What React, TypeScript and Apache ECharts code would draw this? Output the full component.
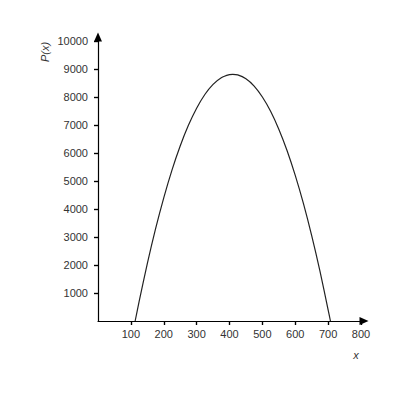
import { useEffect, useRef } from 'react';
import * as echarts from 'echarts';

// points
const xValues = [113, 125, 150, 175, 200, 225, 250, 275, 300, 325, 350, 375, 400, 410, 425, 450, 475, 500, 525, 550, 575, 600, 625, 650, 675, 700, 707];
const pValues = [0, 690, 2050, 3290, 4400, 5390, 6250, 6990, 7600, 8090, 8450, 8690, 8800, 8810, 8790, 8650, 8390, 8000, 7490, 6850, 6090, 5200, 4190, 3050, 1790, 400, 0];

const xTickLabels = [100, 200, 300, 400, 500, 600, 700, 800];
const yTickLabels = [1000, 2000, 3000, 4000, 5000, 6000, 7000, 8000, 9000, 10000];

const font = 'Liberation Sans, Arial, sans-serif';
const axisColor = '#000';
const labelColor = '#333';

const App = () => {
  const ref = useRef<HTMLDivElement>(null);

  useEffect(() => {
    if (!ref.current) return;
    const chart = echarts.init(ref.current, null, { renderer: 'svg' });

    const xBase = {
      type: 'value' as const,
      min: 0,
      max: xTickLabels[xTickLabels.length - 1],
      interval: 100,
      splitLine: { show: false },
    };
    const yBase = {
      type: 'value' as const,
      min: 0,
      max: yTickLabels[yTickLabels.length - 1],
      interval: 1000,
      splitLine: { show: false },
    };
    const tick = { color: axisColor, width: 1.2 };
    const plain = (v: number) => String(v);

    chart.setOption({
      animation: false,
      grid: { left: 98, right: 39, top: 41, bottom: 79 },
      xAxis: [
        {
          ...xBase,
          axisLine: {
            lineStyle: { color: axisColor, width: 1.2 },
            symbol: ['none', 'triangle'],
            symbolSize: [8, 9],
            symbolOffset: [0, 3],
          },
          axisTick: { show: true, length: 4, customValues: xTickLabels, lineStyle: tick },
          axisLabel: {
            color: labelColor,
            fontSize: 11,
            fontFamily: font,
            margin: 7,
            customValues: xTickLabels,
            formatter: plain,
          },
        },
        {
          ...xBase,
          axisLine: { show: false },
          axisTick: { show: true, inside: true, length: 4, customValues: xTickLabels, lineStyle: tick },
          axisLabel: { show: false },
        },
      ],
      yAxis: [
        {
          ...yBase,
          axisLine: {
            show: true,
            lineStyle: { color: axisColor, width: 1.2 },
            symbol: ['none', 'triangle'],
            symbolSize: [8, 9],
            symbolOffset: [0, 4],
          },
          axisTick: { show: true, length: 4, customValues: yTickLabels, lineStyle: tick },
          axisLabel: {
            color: labelColor,
            fontSize: 11,
            fontFamily: font,
            margin: 10,
            customValues: yTickLabels,
            formatter: plain,
          },
        },
        {
          ...yBase,
          axisLine: { show: false },
          axisTick: { show: true, inside: true, length: 4, customValues: yTickLabels, lineStyle: tick },
          axisLabel: { show: false },
        },
      ],
      graphic: [
        {
          type: 'text',
          x: 45,
          y: 52,
          rotation: Math.PI / 2,
          style: {
            text: 'P(x)',
            fill: labelColor,
            font: `italic 11px ${font}`,
            align: 'center',
            verticalAlign: 'middle',
          },
        },
        {
          type: 'text',
          x: 356,
          y: 355,
          style: {
            text: 'x',
            fill: labelColor,
            font: `italic 11px ${font}`,
            align: 'center',
            verticalAlign: 'middle',
          },
        },
      ],
      series: [
        {
          type: 'line',
          data: xValues.map((x, i) => [x, pValues[i]]),
          smooth: 0.3,
          showSymbol: false,
          lineStyle: { color: '#222', width: 1.2 },
        },
      ],
    });

    return () => {
      chart.dispose();
    };
  }, []);

  return (
    <div
      ref={ref}
      style={{ position: 'absolute', left: 0, top: 0, width: 400, height: 400, background: '#fff' }}
    />
  );
};

export default App;
